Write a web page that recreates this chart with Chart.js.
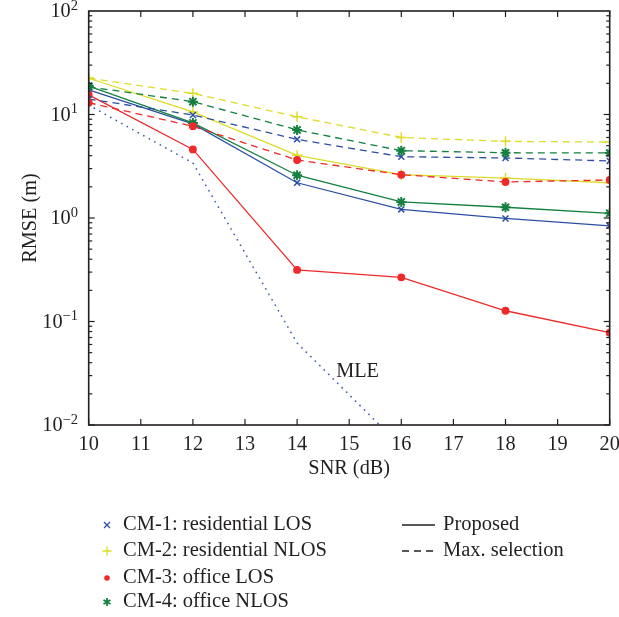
<!DOCTYPE html>
<html><head><meta charset="utf-8">
<script src="https://cdn.jsdelivr.net/npm/chart.js@4/dist/chart.umd.min.js"></script>
<style>
html,body{margin:0;padding:0;background:#fff;}
#wrap{position:relative;width:619px;height:617px;overflow:hidden;}
#c{position:absolute;left:0;top:0;}
.lg{position:absolute;font-family:"Liberation Serif",serif;font-size:20.5px;color:#231f20;line-height:26px;height:26px;white-space:nowrap;}
.mk{position:absolute;}
</style></head><body>
<div id="wrap"><canvas id="c" width="619" height="617"></canvas><div id="legend"></div></div>
<script>
// ---- data ----
const snr = [10, 12, 14, 16, 18, 20];
const cm1Proposed = [17.3, 8.1, 2.19, 1.21, 0.99, 0.84];
const cm1MaxSel   = [14.1, 9.9, 5.75, 3.91, 3.80, 3.56];
const cm2Proposed = [22.4, 10.6, 4.03, 2.62, 2.43, 2.19];
const cm2MaxSel   = [22.4, 16.0, 9.5, 6.0, 5.5, 5.42];
const cm3Proposed = [15.5, 4.6, 0.315, 0.267, 0.127, 0.078];
const cm3MaxSel   = [13.0, 7.7, 3.63, 2.62, 2.23, 2.33];
const cm4Proposed = [18.8, 8.3, 2.59, 1.43, 1.27, 1.11];
const cm4MaxSel   = [18.5, 13.3, 7.1, 4.47, 4.27, 4.25];
const mleSnr    = [10, 12, 14, 16];
const mleValues = [12.3, 3.4, 0.062, 0.0062];
const xTickValues = [10, 11, 12, 13, 14, 15, 16, 17, 18, 19, 20];
const yTickExponents = [-2, -1, 0, 1, 2];
const seriesNames = ['CM-1: residential LOS', 'CM-2: residential NLOS', 'CM-3: office LOS', 'CM-4: office NLOS'];
const styleNames = ['Proposed', 'Max. selection'];
const mleLabel = 'MLE';
const mleLabelPos = [14.75, 0.033];
const xTitle = 'SNR (dB)';
const yTitle = 'RMSE (m)';

// ---- styles ----
const colors = ['#2d4fa3', '#dcdc28', '#ee2a2a', '#13803f'];
const pStyles = ['crossRot', 'cross', 'circle', 'star'];
const pRadius = [4.2, 5.2, 3.2, 5];
const pWidth = [1.5, 1.5, 1.5, 2];
const FONT = '"Liberation Serif", "Times New Roman", serif';
const INK = '#231f20';
const DASH = [7, 5];
const FS = 20.3;

function pts(xs, ys) { return xs.map((x, i) => ({x: x, y: ys[i]})); }
const proposed = [cm1Proposed, cm2Proposed, cm3Proposed, cm4Proposed];
const maxSel = [cm1MaxSel, cm2MaxSel, cm3MaxSel, cm4MaxSel];
const datasets = [];
[3, 2, 1, 0].forEach(i => {
  datasets.push({label: seriesNames[i] + ' ' + styleNames[1], data: pts(snr, maxSel[i]),
    borderColor: colors[i], backgroundColor: colors[i], borderWidth: 1.3, borderDash: DASH,
    pointStyle: pStyles[i], pointRadius: pRadius[i], pointBorderWidth: pWidth[i], pointBorderColor: colors[i],
    pointBackgroundColor: colors[i], tension: 0, clip: 0});
});
[3, 2, 1, 0].forEach(i => {
  datasets.push({label: seriesNames[i] + ' ' + styleNames[0], data: pts(snr, proposed[i]),
    borderColor: colors[i], backgroundColor: colors[i], borderWidth: 1.3,
    pointStyle: pStyles[i], pointRadius: pRadius[i], pointBorderWidth: pWidth[i], pointBorderColor: colors[i],
    pointBackgroundColor: colors[i], tension: 0, clip: 0});
});
datasets.push({label: mleLabel, data: pts(mleSnr, mleValues), borderColor: '#3a5cb0', borderWidth: 1.7,
  borderDash: [0.1, 6.2], borderCapStyle: 'round', pointRadius: 0, tension: 0, clip: 0});

const framePlugin = {
  id: 'frame',
  afterDraw(chart) {
    const {ctx, chartArea: a, scales: {x, y}} = chart;
    ctx.save();
    ctx.strokeStyle = INK; ctx.lineWidth = 1.2;
    const ln = (x1, y1, x2, y2) => { ctx.beginPath(); ctx.moveTo(x1, y1); ctx.lineTo(x2, y2); ctx.stroke(); };
    xTickValues.forEach(v => { const px = x.getPixelForValue(v); ln(px, a.bottom, px, a.bottom - 6); ln(px, a.top, px, a.top + 6); });
    for (let e = yTickExponents[0]; e < yTickExponents[yTickExponents.length - 1]; e++) {
      for (let m = 1; m <= 9; m++) {
        const py = y.getPixelForValue(m * Math.pow(10, e));
        const len = m === 1 ? 6 : 3.5;
        ln(a.left, py, a.left + len, py); ln(a.right, py, a.right - len, py);
      }
    }
    ctx.lineWidth = 1.6;
    ctx.strokeRect(a.left, a.top, a.right - a.left, a.bottom - a.top);
    ctx.fillStyle = INK; ctx.textBaseline = 'middle'; ctx.textAlign = 'left';
    yTickExponents.forEach(e => {
      const py = y.getPixelForValue(Math.pow(10, e));
      const ex = e < 0 ? '\u2212' + (-e) : String(e);
      ctx.font = '14.5px ' + FONT; const ew = ctx.measureText(ex).width;
      ctx.font = FS + 'px ' + FONT; const bw = ctx.measureText('10').width;
      const right = 78;
      ctx.fillText('10', right - ew - bw, py + 1);
      ctx.font = '14.5px ' + FONT; ctx.fillText(ex, right - ew, py - 5);
    });
    ctx.font = FS + 'px ' + FONT;
    ctx.fillText(mleLabel, x.getPixelForValue(mleLabelPos[0]), y.getPixelForValue(mleLabelPos[1]));
    ctx.restore();
  }
};

new Chart(document.getElementById('c'), {
  type: 'line',
  data: {datasets: datasets},
  options: {
    responsive: false, animation: false, devicePixelRatio: 1,
    layout: {padding: {left: 0, top: 11, right: 9.3, bottom: 132}},
    plugins: {legend: {display: false}, tooltip: {enabled: false}},
    scales: {
      x: {type: 'linear', min: 10, max: 20,
        grid: {display: false}, border: {display: false},
        ticks: {stepSize: 1, autoSkip: false, padding: -1, color: INK, font: {family: FONT, size: FS},
          callback: v => String(v)},
        afterBuildTicks: s => { s.ticks = xTickValues.map(v => ({value: v})); },
        title: {display: true, text: xTitle, color: INK, font: {family: FONT, size: FS}, padding: {top: 0, bottom: 4}},
        afterFit: s => { s.height = 60; }
      },
      y: {type: 'logarithmic', min: 0.01, max: 100,
        grid: {display: false}, border: {display: false},
        ticks: {display: false},
        title: {display: true, text: yTitle, color: INK, font: {family: FONT, size: FS}, padding: {top: 18, bottom: 0}},
        afterFit: s => { s.width = 88.7; }
      }
    }
  },
  plugins: [framePlugin]
});

// ---- legend (HTML) ----
const lg = document.getElementById('legend');
const rowY = [523, 549, 576, 600];
const markerSvg = [
  c => `<svg width="12" height="12"><path d="M3 3L9 9M9 3L3 9" stroke="${c}" stroke-width="1.3"/></svg>`,
  c => `<svg width="12" height="12"><path d="M6 1.5V10.5M1.5 6H10.5" stroke="${c}" stroke-width="1.3"/></svg>`,
  c => `<svg width="12" height="12"><circle cx="6" cy="6" r="2.8" fill="${c}"/></svg>`,
  c => `<svg width="12" height="12"><path d="M6 2V10M2.5 4L9.5 8M9.5 4L2.5 8" stroke="${c}" stroke-width="1.8"/></svg>`
];
seriesNames.forEach((n, i) => {
  const m = document.createElement('div'); m.className = 'mk';
  m.style.left = '101px'; m.style.top = (rowY[i] - 6) + 'px'; m.innerHTML = markerSvg[i](colors[i]); lg.appendChild(m);
  const t = document.createElement('div'); t.className = 'lg'; t.textContent = n;
  t.style.left = '123px'; t.style.top = (rowY[i] - 13) + 'px'; lg.appendChild(t);
});
styleNames.forEach((n, i) => {
  const m = document.createElement('div'); m.className = 'mk';
  m.style.left = '402px'; m.style.top = (rowY[i] - 6) + 'px';
  m.innerHTML = `<svg width="34" height="12"><path d="M0 6H33" stroke="${INK}" stroke-width="1.3" ${i ? 'stroke-dasharray="7 5"' : ''}/></svg>`;
  lg.appendChild(m);
  const t = document.createElement('div'); t.className = 'lg'; t.textContent = n;
  t.style.left = '443px'; t.style.top = (rowY[i] - 13) + 'px'; lg.appendChild(t);
});
</script>
</body></html>
